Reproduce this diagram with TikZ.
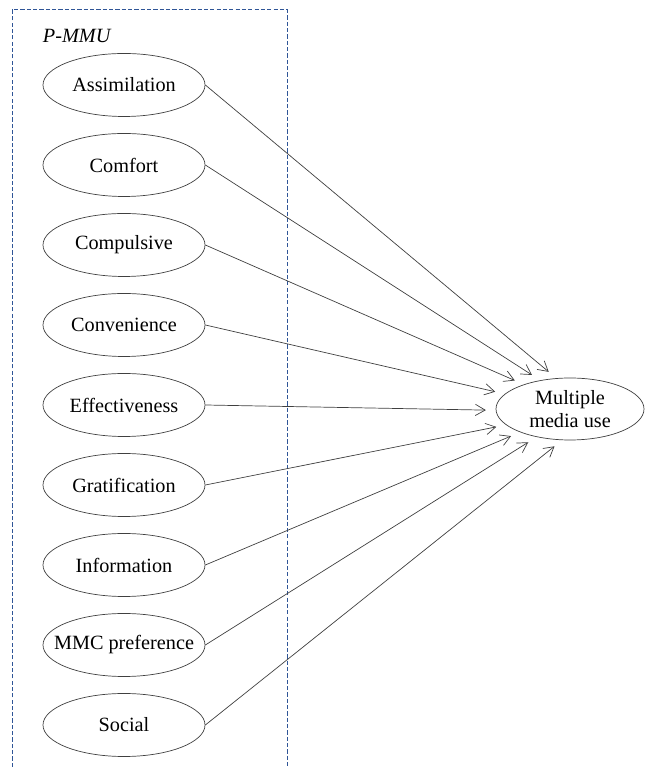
\documentclass[tikz,border=0pt]{standalone}
\usepackage{fontspec}
\setmainfont{Liberation Serif}
\usetikzlibrary{arrows.meta,shapes.geometric}

\definecolor{boxblue}{RGB}{47,85,151}
\definecolor{linegray}{RGB}{64,64,64}

\tikzset{
	factor/.style={ellipse, draw=linegray, line width=0.5pt, minimum width=4.05cm, minimum height=1.575cm, inner sep=0pt},
	outcome/.style={ellipse, draw=linegray, line width=0.5pt, minimum width=3.7cm, minimum height=1.55cm, inner sep=0pt, align=center},
	link/.style={draw=linegray, line width=0.5pt, -{Straight Barb[length=7pt,width=8pt]}, shorten >=7pt}
}

\begin{document}
\begin{tikzpicture}[font=\fontsize{14.4}{16.4}\selectfont]
	\useasboundingbox (0,0) rectangle (16.1,19.175);
%
	\draw[boxblue, dash pattern=on 3pt off 1.5pt, line width=0.7pt] (0.3,0) |- (7.175,18.925) -- (7.175,0);
	\node[anchor=base west, font=\fontsize{14.4}{16.4}\selectfont\itshape] (title) at (0.95,18.1) {P-MMU};
%
	\node[factor] (assim) at (3.1,17.05) {Assimilation};
	\node[factor] (comfort) at (3.1,15.05) {Comfort};
	\node[factor] (compuls) at (3.1,13.05) {Compulsive};
	\node[factor] (conven) at (3.1,11.05) {Convenience};
	\node[factor] (effect) at (3.1,9.05) {Effectiveness};
	\node[factor] (gratif) at (3.1,7.05) {Gratification};
	\node[factor] (inform) at (3.1,5.05) {Information};
	\node[factor] (mmcpref) at (3.1,3.05) {\makebox[0pt]{MMC preference}};
	\node[factor] (social) at (3.1,1.05) {Social};
%
	\node[outcome] (mmu) at (14.25,8.95) {Multiple\\media use};
%
	\draw[link] (assim.east) -- (mmu.114);
	\draw[link] (comfort.east) -- (mmu.136);
	\draw[link] (compuls.east) -- (mmu.152);
	\draw[link] (conven.east) -- (mmu.167);
	\draw[link] (effect.east) -- (mmu.181);
	\draw[link] (gratif.east) -- (mmu.194);
	\draw[link] (inform.east) -- (mmu.205);
	\draw[link] (mmcpref.east) -- (mmu.220);
	\draw[link] (social.east) -- (mmu.256);
\end{tikzpicture}
\end{document}
